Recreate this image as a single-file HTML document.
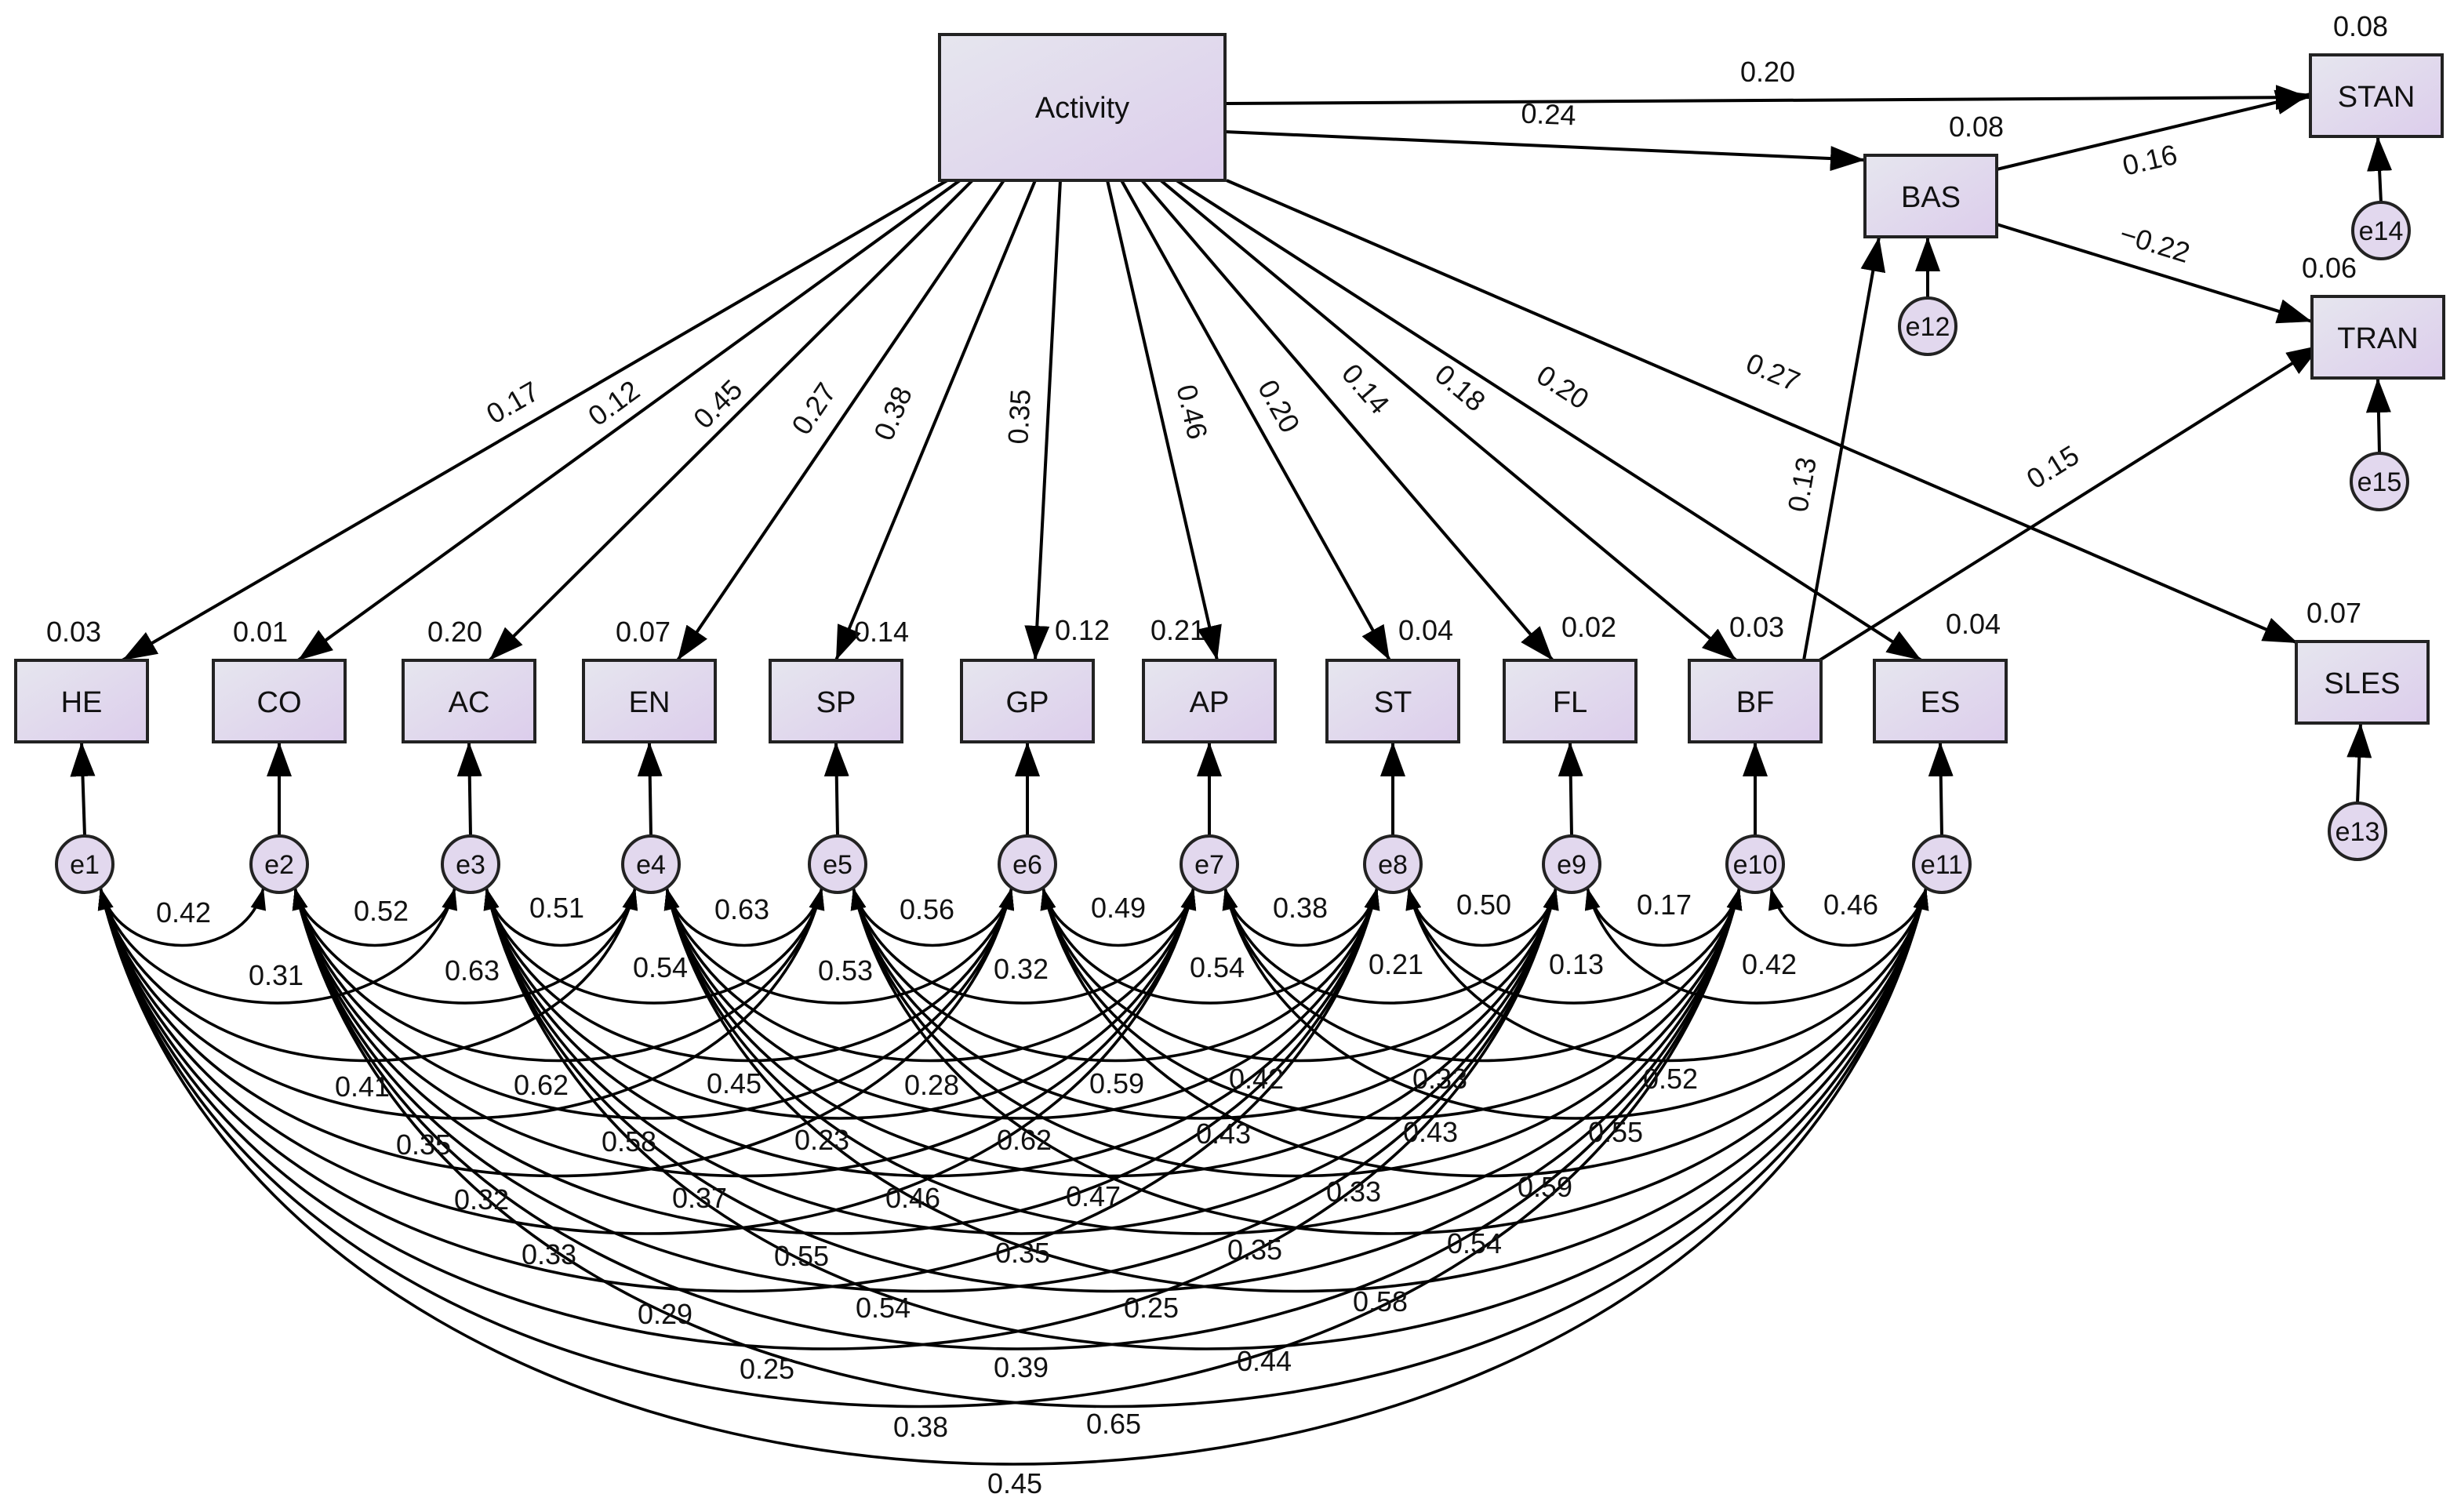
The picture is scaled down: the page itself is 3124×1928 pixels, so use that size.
<!DOCTYPE html>
<html><head><meta charset="utf-8"><style>
html,body{margin:0;padding:0;background:#fff;width:3124px;height:1928px;overflow:hidden}
svg{display:block}
text{font-family:"Liberation Sans",Arial,sans-serif;fill:#111}
.n{font-size:18px}
.b{font-size:19px}
</style></head><body>
<svg width="3124" height="1928" viewBox="0 0 1562 964" xmlns="http://www.w3.org/2000/svg">
<defs>
<linearGradient id="g" x1="0" y1="0" x2="1" y2="1">
<stop offset="0" stop-color="#e6e6ee"/><stop offset="1" stop-color="#dccdec"/>
</linearGradient>
<marker id="A" viewBox="0 0 22 16" refX="22" refY="8" markerWidth="22" markerHeight="16" markerUnits="userSpaceOnUse" orient="auto-start-reverse"><path d="M0,0 L22,8 L0,16z" fill="#000"/></marker>
<marker id="s" viewBox="0 0 14 10" refX="14" refY="5" markerWidth="14" markerHeight="10" markerUnits="userSpaceOnUse" orient="auto-start-reverse"><path d="M0,0 L14,5 L0,10z" fill="#000"/></marker>
</defs>

<g fill="none" stroke="#000" stroke-width="1.8" marker-start="url(#s)" marker-end="url(#s)">
<path d="M64 566C76 615,156 615,168 566"/>
<path d="M188 566C200 615,278 615,290 566"/>
<path d="M310 566C322 615,393 615,405 566"/>
<path d="M425 566C437 615,512 615,524 566"/>
<path d="M544 566C556 615,633 615,645 566"/>
<path d="M665 566C677 615,749 615,761 566"/>
<path d="M781 566C793 615,866 615,878 566"/>
<path d="M898 566C909 615,981 615,992 566"/>
<path d="M1012 566C1024 615,1097 615,1109 566"/>
<path d="M1129 566C1141 615,1216 615,1228 566"/>
<path d="M64 566C89 664,265 664,290 566"/>
<path d="M188 566C212 664,381 664,405 566"/>
<path d="M310 566C333 664,501 664,524 566"/>
<path d="M425 566C449 664,621 664,645 566"/>
<path d="M544 566C568 664,737 664,761 566"/>
<path d="M665 566C688 664,855 664,878 566"/>
<path d="M781 566C804 664,969 664,992 566"/>
<path d="M898 566C921 664,1086 664,1109 566"/>
<path d="M1012 566C1036 664,1204 664,1228 566"/>
<path d="M64 566C100 713,369 713,405 566"/>
<path d="M188 566C224 713,488 713,524 566"/>
<path d="M310 566C346 713,609 713,645 566"/>
<path d="M425 566C461 713,725 713,761 566"/>
<path d="M544 566C579 713,843 713,878 566"/>
<path d="M665 566C700 713,957 713,992 566"/>
<path d="M781 566C816 713,1074 713,1109 566"/>
<path d="M898 566C933 713,1193 713,1228 566"/>
<path d="M64 566C112 762,476 762,524 566"/>
<path d="M188 566C236 762,597 762,645 566"/>
<path d="M310 566C357 762,714 762,761 566"/>
<path d="M425 566C472 762,831 762,878 566"/>
<path d="M544 566C591 762,945 762,992 566"/>
<path d="M665 566C711 762,1063 762,1109 566"/>
<path d="M781 566C828 762,1181 762,1228 566"/>
<path d="M64 566C124 811,585 811,645 566"/>
<path d="M188 566C247 811,702 811,761 566"/>
<path d="M310 566C369 811,819 811,878 566"/>
<path d="M425 566C484 811,933 811,992 566"/>
<path d="M544 566C603 811,1051 811,1109 566"/>
<path d="M665 566C723 811,1170 811,1228 566"/>
<path d="M64 566C136 860,689 860,761 566"/>
<path d="M188 566C259 860,807 860,878 566"/>
<path d="M310 566C380 860,922 860,992 566"/>
<path d="M425 566C495 860,1039 860,1109 566"/>
<path d="M544 566C614 860,1158 860,1228 566"/>
<path d="M64 566C147 909,795 909,878 566"/>
<path d="M188 566C270 909,910 909,992 566"/>
<path d="M310 566C392 909,1027 909,1109 566"/>
<path d="M425 566C507 909,1146 909,1228 566"/>
<path d="M64 566C159 958,897 958,992 566"/>
<path d="M188 566C282 958,1015 958,1109 566"/>
<path d="M310 566C404 958,1134 958,1228 566"/>
<path d="M64 566C170 1007,1003 1007,1109 566"/>
<path d="M188 566C294 1007,1122 1007,1228 566"/>
<path d="M64 566C182 1056,1110 1056,1228 566"/>
</g>

<g class="n" text-anchor="middle">
<text x="117" y="588">0.42</text><text x="243" y="587">0.52</text><text x="355" y="585">0.51</text><text x="473" y="586">0.63</text><text x="591" y="586">0.56</text><text x="713" y="585">0.49</text><text x="829" y="585">0.38</text><text x="946" y="583">0.50</text><text x="1061" y="583">0.17</text><text x="1180" y="583">0.46</text>
<text x="176" y="628">0.31</text><text x="301" y="625">0.63</text><text x="421" y="623">0.54</text><text x="539" y="625">0.53</text><text x="651" y="624">0.32</text><text x="776" y="623">0.54</text><text x="890" y="621">0.21</text><text x="1005" y="621">0.13</text><text x="1128" y="621">0.42</text>
<text x="231" y="699">0.41</text><text x="345" y="698">0.62</text><text x="468" y="697">0.45</text><text x="594" y="698">0.28</text><text x="712" y="697">0.59</text><text x="801" y="694">0.42</text><text x="918" y="694">0.33</text><text x="1065" y="694">0.52</text>
<text x="270" y="736">0.35</text><text x="401" y="734">0.58</text><text x="524" y="733">0.23</text><text x="653" y="733">0.62</text><text x="780" y="729">0.43</text><text x="912" y="728">0.43</text><text x="1030" y="728">0.55</text>
<text x="307" y="771">0.32</text><text x="446" y="770">0.37</text><text x="582" y="770">0.46</text><text x="697" y="769">0.47</text><text x="863" y="766">0.33</text><text x="985" y="763">0.59</text>
<text x="350" y="806">0.33</text><text x="511" y="807">0.55</text><text x="652" y="805">0.35</text><text x="800" y="803">0.35</text><text x="940" y="799">0.54</text>
<text x="424" y="844">0.29</text><text x="563" y="840">0.54</text><text x="734" y="840">0.25</text><text x="880" y="836">0.58</text>
<text x="489" y="879">0.25</text><text x="651" y="878">0.39</text><text x="806" y="874">0.44</text>
<text x="587" y="916">0.38</text><text x="710" y="914">0.65</text>
<text x="647" y="952">0.45</text>
</g>

<g stroke="#000" stroke-width="2" fill="none" marker-end="url(#A)">
<line x1="604" y1="115" x2="78" y2="421"/>
<line x1="612" y1="115" x2="190" y2="421"/>
<line x1="620" y1="115" x2="312" y2="421"/>
<line x1="640" y1="115" x2="432" y2="421"/>
<line x1="660" y1="115" x2="533" y2="421"/>
<line x1="676" y1="115" x2="660" y2="421"/>
<line x1="706" y1="115" x2="776" y2="421"/>
<line x1="715" y1="115" x2="886" y2="421"/>
<line x1="728" y1="115" x2="990" y2="421"/>
<line x1="740" y1="115" x2="1107" y2="421"/>
<line x1="750" y1="115" x2="1225" y2="421"/>
<line x1="782" y1="115" x2="1465" y2="410"/>
<line x1="781" y1="66" x2="1473" y2="62"/>
<line x1="781" y1="84" x2="1189" y2="102"/>
<line x1="1273" y1="108" x2="1473" y2="60"/>
<line x1="1273" y1="143" x2="1474" y2="205"/>
<line x1="1150" y1="421" x2="1198" y2="151"/>
<line x1="1160" y1="421" x2="1480" y2="220"/>
<line x1="54" y1="533" x2="52" y2="473"/>
<line x1="178" y1="533" x2="178" y2="473"/>
<line x1="300" y1="533" x2="299" y2="473"/>
<line x1="415" y1="533" x2="414" y2="473"/>
<line x1="534" y1="533" x2="533" y2="473"/>
<line x1="655" y1="533" x2="655" y2="473"/>
<line x1="771" y1="533" x2="771" y2="473"/>
<line x1="888" y1="533" x2="888" y2="473"/>
<line x1="1002" y1="533" x2="1001" y2="473"/>
<line x1="1119" y1="533" x2="1119" y2="473"/>
<line x1="1238" y1="533" x2="1237" y2="473"/>
<line x1="1229" y1="190" x2="1229" y2="151"/>
<line x1="1518" y1="129" x2="1516" y2="87"/>
<line x1="1517" y1="289" x2="1516" y2="241"/>
<line x1="1503" y1="512" x2="1505" y2="461"/>
</g>

<g class="n" text-anchor="middle">
<text transform="translate(330,262) rotate(-30)">0.17</text>
<text transform="translate(395,262) rotate(-36)">0.12</text>
<text transform="translate(462,262) rotate(-45)">0.45</text>
<text transform="translate(524,264) rotate(-56)">0.27</text>
<text transform="translate(575,266) rotate(-67)">0.38</text>
<text transform="translate(656,266) rotate(-87)">0.35</text>
<text transform="translate(754,264) rotate(77)">0.46</text>
<text transform="translate(810,262) rotate(61)">0.20</text>
<text transform="translate(866,252) rotate(49)">0.14</text>
<text transform="translate(927,252) rotate(40)">0.18</text>
<text transform="translate(993,252) rotate(33)">0.20</text>
<text transform="translate(1128,243) rotate(23)">0.27</text>
<text x="1127" y="52">0.20</text>
<text transform="translate(987,79) rotate(2.5)">0.24</text>
<text transform="translate(1372,108) rotate(-13)">0.16</text>
<text transform="translate(1372,161) rotate(17)">−0.22</text>
<text transform="translate(1155,310) rotate(-80)">0.13</text>
<text transform="translate(1312,303) rotate(-32)">0.15</text>
<text x="47" y="409">0.03</text><text x="166" y="409">0.01</text><text x="290" y="409">0.20</text><text x="410" y="409">0.07</text><text x="562" y="409">0.14</text><text x="690" y="408">0.12</text><text x="751" y="408">0.21</text><text x="909" y="408">0.04</text><text x="1013" y="406">0.02</text><text x="1120" y="406">0.03</text><text x="1258" y="404">0.04</text>
<text x="1505" y="23">0.08</text><text x="1260" y="87">0.08</text><text x="1485" y="177">0.06</text><text x="1488" y="397">0.07</text>
</g>

<g stroke="#222" stroke-width="2" fill="url(#g)">
<rect x="599" y="22" width="182" height="93"/>
<rect x="1473" y="35" width="84" height="52"/>
<rect x="1189" y="99" width="84" height="52"/>
<rect x="1474" y="189" width="84" height="52"/>
<rect x="1464" y="409" width="84" height="52"/>
<rect x="10" y="421" width="84" height="52"/>
<rect x="136" y="421" width="84" height="52"/>
<rect x="257" y="421" width="84" height="52"/>
<rect x="372" y="421" width="84" height="52"/>
<rect x="491" y="421" width="84" height="52"/>
<rect x="613" y="421" width="84" height="52"/>
<rect x="729" y="421" width="84" height="52"/>
<rect x="846" y="421" width="84" height="52"/>
<rect x="959" y="421" width="84" height="52"/>
<rect x="1077" y="421" width="84" height="52"/>
<rect x="1195" y="421" width="84" height="52"/>
</g>
<g stroke="#222" stroke-width="2" fill="#e2d8ee">
<circle cx="54" cy="551" r="18"/><circle cx="178" cy="551" r="18"/><circle cx="300" cy="551" r="18"/><circle cx="415" cy="551" r="18"/><circle cx="534" cy="551" r="18"/><circle cx="655" cy="551" r="18"/><circle cx="771" cy="551" r="18"/><circle cx="888" cy="551" r="18"/><circle cx="1002" cy="551" r="18"/><circle cx="1119" cy="551" r="18"/><circle cx="1238" cy="551" r="18"/>
<circle cx="1229" cy="208" r="18"/><circle cx="1518" cy="147" r="18"/><circle cx="1517" cy="307" r="18"/><circle cx="1503" cy="530" r="18"/>
</g>
<g class="b" text-anchor="middle">
<text x="690" y="75">Activity</text>
<text x="1515" y="68">STAN</text><text x="1231" y="132">BAS</text><text x="1516" y="222">TRAN</text><text x="1506" y="442">SLES</text>
<text x="52" y="454">HE</text><text x="178" y="454">CO</text><text x="299" y="454">AC</text><text x="414" y="454">EN</text><text x="533" y="454">SP</text><text x="655" y="454">GP</text><text x="771" y="454">AP</text><text x="888" y="454">ST</text><text x="1001" y="454">FL</text><text x="1119" y="454">BF</text><text x="1237" y="454">ES</text>
</g>
<g class="n" text-anchor="middle" style="font-size:17px">
<text x="54" y="557">e1</text><text x="178" y="557">e2</text><text x="300" y="557">e3</text><text x="415" y="557">e4</text><text x="534" y="557">e5</text><text x="655" y="557">e6</text><text x="771" y="557">e7</text><text x="888" y="557">e8</text><text x="1002" y="557">e9</text><text x="1119" y="557">e10</text><text x="1238" y="557">e11</text>
<text x="1229" y="214">e12</text><text x="1518" y="153">e14</text><text x="1517" y="313">e15</text><text x="1503" y="536">e13</text>
</g>
</svg>
</body></html>
